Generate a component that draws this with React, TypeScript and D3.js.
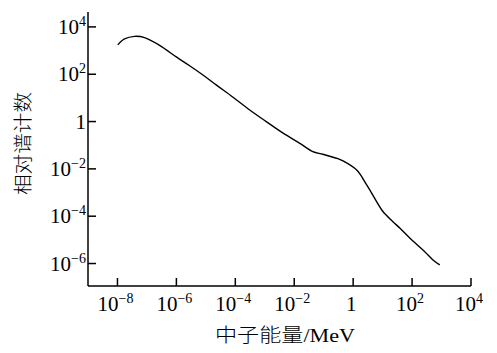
import React from "react";
import * as d3 from "d3";

// log10 of neutron energy (MeV) and log10 of relative spectrum count
const logEnergy = [-7.99, -7.76, -7.42, -7.08, -6.57, -5.99, -5.55, -5.11, -4.65, -4.09, -3.51, -2.95, -2.39, -1.81, -1.37, -1.03, -0.52, -0.35, 0.12, 0.46, 0.8, 1.01, 1.35, 1.59, 1.93, 2.43, 2.71, 2.94];
const logCount = [3.24, 3.49, 3.6, 3.55, 3.22, 2.72, 2.36, 1.98, 1.55, 1.04, 0.49, 0.0, -0.48, -0.92, -1.27, -1.38, -1.57, -1.66, -2.05, -2.68, -3.39, -3.8, -4.23, -4.51, -4.93, -5.5, -5.85, -6.06];

const xTickExps = [-8, -6, -4, -2, 0, 2, 4];
const yTickExps = [4, 2, 0, -2, -4, -6];
const xLabel = "中子能量/MeV";
const yLabel = "相对谱计数";

const W = 497;
const H = 353;
const serif = "'Liberation Serif', 'Times New Roman', 'Noto Sans CJK SC', serif";

function Pow10({ exp, x, y, anchor }: { exp: number; x: number; y: number; anchor: string }) {
  if (exp === 0) {
    return (
      <text x={x} y={y} textAnchor={anchor} fontFamily={serif} fontSize={21}>
        1
      </text>
    );
  }
  const sup = exp < 0 ? "\u2212" + Math.abs(exp) : String(exp);
  return (
    <text x={x} y={y} textAnchor={anchor} fontFamily={serif} fontSize={21}>
      <tspan>10</tspan>
      <tspan fontSize={14} dy={-8}>{sup}</tspan>
    </text>
  );
}

export default function App() {
  const x = d3.scaleLinear().domain([-9, 4]).range([88, 471]);
  const y = d3.scaleLinear().domain([-6.95, 4.63]).range([286, 12]);
  const pts = logEnergy.map((e, i) => [e, logCount[i]] as [number, number]);
  const line = d3
    .line<[number, number]>()
    .x((d) => x(d[0]))
    .y((d) => y(d[1]))
    .curve(d3.curveCatmullRom.alpha(0.5));

  const x0 = x.range()[0];
  const y0 = y.range()[0];
  const tickLen = 8;

  return (
    <svg width={W} height={H} style={{ position: "absolute", left: 0, top: 0, background: "#fff" }}>
      <rect width={W} height={H} fill="#fff" />
      <line x1={x0} y1={y.range()[1]} x2={x0} y2={y0} stroke="#000" strokeWidth={1.5} />
      <line x1={x0} y1={y0} x2={x.range()[1]} y2={y0} stroke="#000" strokeWidth={1.5} />
      {xTickExps.map((e) => (
        <g key={"x" + e}>
          <line x1={x(e)} x2={x(e)} y1={y0} y2={y0 - tickLen} stroke="#000" strokeWidth={1.5} />
          <Pow10 exp={e} x={x(e) - 2} y={311} anchor="middle" />
        </g>
      ))}
      {yTickExps.map((e) => (
        <g key={"y" + e}>
          <line x1={x0} x2={x0 + tickLen} y1={y(e)} y2={y(e)} stroke="#000" strokeWidth={1.5} />
          <Pow10 exp={e} x={86} y={y(e) + 7} anchor="end" />
        </g>
      ))}
      <path d={line(pts) || ""} fill="none" stroke="#000" strokeWidth={1.4} />
      <text x={215} y={342} fontFamily={serif} fontSize={19} fontWeight={300} textLength={140} lengthAdjust="spacingAndGlyphs">
        {xLabel}
      </text>
      <text
        transform="translate(30,143.5) rotate(-90)"
        textAnchor="middle"
        fontFamily={serif}
        fontSize={19}
        fontWeight={300}
        textLength={103}
        lengthAdjust="spacingAndGlyphs"
      >
        {yLabel}
      </text>
    </svg>
  );
}
